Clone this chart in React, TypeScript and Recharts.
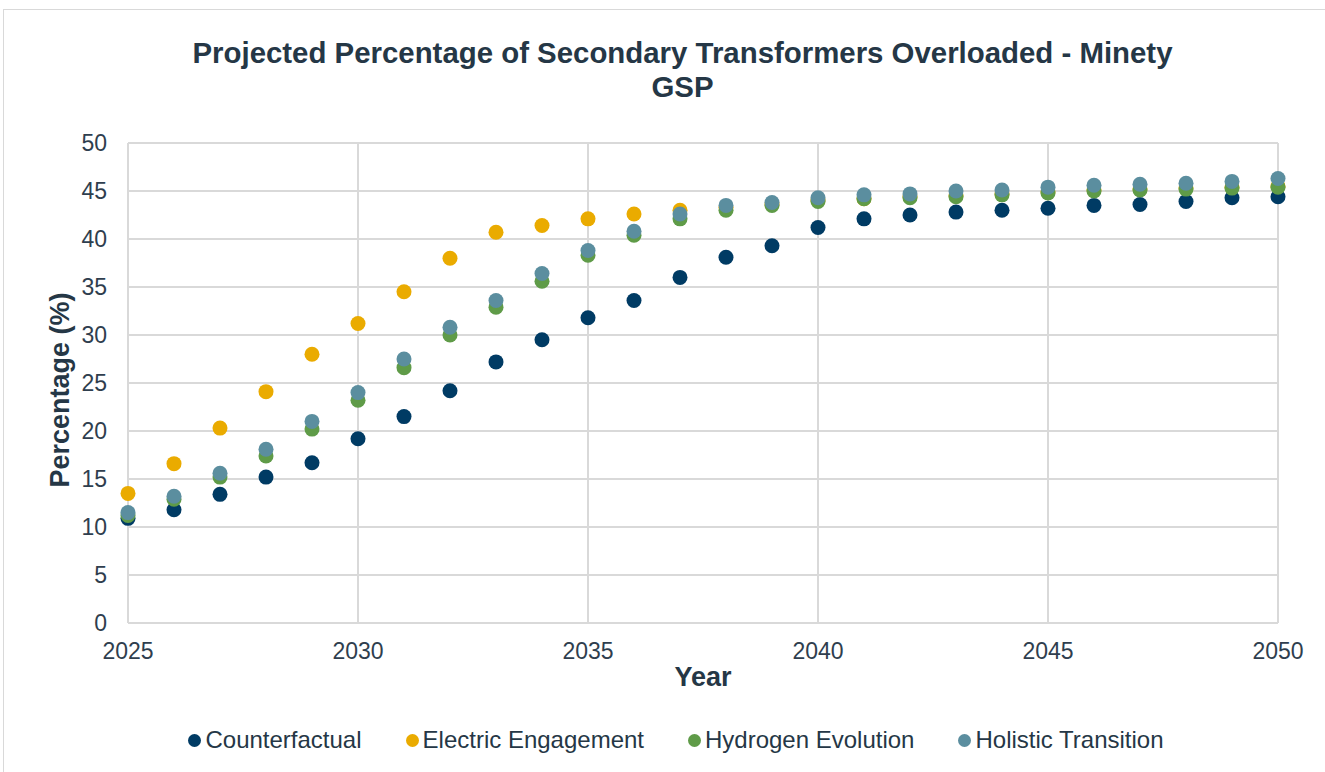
import React from 'react';
import { ScatterChart, Scatter, XAxis, YAxis, CartesianGrid, Label } from 'recharts';

const years = [2025, 2026, 2027, 2028, 2029, 2030, 2031, 2032, 2033, 2034, 2035, 2036, 2037, 2038, 2039, 2040, 2041, 2042, 2043, 2044, 2045, 2046, 2047, 2048, 2049, 2050];

const counterfactual = [10.9, 11.8, 13.4, 15.2, 16.7, 19.2, 21.5, 24.2, 27.2, 29.5, 31.8, 33.6, 36.0, 38.1, 39.3, 41.2, 42.1, 42.5, 42.8, 43.0, 43.2, 43.5, 43.6, 43.9, 44.3, 44.4];
const electricEngagement = [13.5, 16.6, 20.3, 24.1, 28.0, 31.2, 34.5, 38.0, 40.7, 41.4, 42.1, 42.6, 43.0, 43.3, 43.6, 44.0, 44.2, 44.4, 44.5, 44.7, 44.9, 45.1, 45.2, 45.3, 45.4, 45.5];
const hydrogenEvolution = [11.2, 12.9, 15.2, 17.4, 20.2, 23.2, 26.6, 30.0, 32.9, 35.6, 38.3, 40.4, 42.1, 43.0, 43.5, 43.9, 44.2, 44.3, 44.4, 44.6, 44.8, 45.0, 45.1, 45.2, 45.3, 45.4];
const holisticTransition = [11.5, 13.2, 15.6, 18.1, 21.0, 24.0, 27.5, 30.8, 33.6, 36.4, 38.8, 40.8, 42.6, 43.5, 43.8, 44.3, 44.6, 44.7, 45.0, 45.1, 45.4, 45.6, 45.7, 45.8, 46.0, 46.3];

const xTicks = [2025, 2030, 2035, 2040, 2045, 2050];
const yTicks = [0, 5, 10, 15, 20, 25, 30, 35, 40, 45, 50];

const series = [
  { name: 'Counterfactual', values: counterfactual, color: '#003b64' },
  { name: 'Electric Engagement', values: electricEngagement, color: '#eaab00' },
  { name: 'Hydrogen Evolution', values: hydrogenEvolution, color: '#5f9b48' },
  { name: 'Holistic Transition', values: holisticTransition, color: '#5b8e9f' },
];

const font = '"Liberation Sans", Arial, sans-serif';
const textColor = '#253746';
const tickColor = '#2f3e4e';

const Dot = (props: any) => {
  const { cx, cy, fill } = props;
  return <circle cx={cx} cy={cy} r={7.5} fill={fill} />;
};

export default function App() {
  return (
    <div style={{ position: 'absolute', left: 0, top: 0, width: 1325, height: 772, background: '#fff', fontFamily: font, overflow: 'hidden' }}>
      <div style={{ position: 'absolute', left: 3, top: 9, width: 1340, height: 780, border: '1px solid #d9d9d9', boxSizing: 'border-box' }} />
      <div style={{ position: 'absolute', left: 0, top: 36, width: 1365, textAlign: 'center', fontSize: 29.4, fontWeight: 'bold', color: textColor, lineHeight: '34px' }}>
        Projected Percentage of Secondary Transformers Overloaded - Minety
        <br />
        GSP
      </div>
      <div style={{ position: 'absolute', left: 0, top: 0 }}>
        <ScatterChart width={1325} height={772} margin={{ top: 143, right: 47, bottom: 89, left: 68 }}>
          <CartesianGrid stroke="#d9d9d9" strokeWidth={2} verticalValues={xTicks} horizontalValues={yTicks} />
          <XAxis
            type="number"
            dataKey="x"
            domain={[2025, 2050]}
            ticks={xTicks}
            height={60}
            tickSize={0}
            tickMargin={20}
            axisLine={{ stroke: '#d9d9d9', strokeWidth: 2 }}
            tick={{ fontSize: 23, fill: tickColor, fontFamily: font }}
          >
            <Label value="Year" position="insideBottom" offset={0} dy={3} style={{ fontSize: 27, fontWeight: 'bold', fill: textColor, fontFamily: font }} />
          </XAxis>
          <YAxis
            type="number"
            dataKey="y"
            domain={[0, 50]}
            ticks={yTicks}
            width={60}
            tickSize={0}
            tickMargin={21}
            axisLine={{ stroke: '#d9d9d9', strokeWidth: 2 }}
            tick={{ fontSize: 23, fill: tickColor, fontFamily: font }}
          >
            <Label value="Percentage (%)" angle={-90} position="insideLeft" offset={0} dx={-9} dy={7} style={{ textAnchor: 'middle', fontSize: 27, fontWeight: 'bold', fill: textColor, fontFamily: font }} />
          </YAxis>
          {series.map((s) => (
            <Scatter
              key={s.name}
              name={s.name}
              data={years.map((yr, i) => ({ x: yr, y: s.values[i] }))}
              fill={s.color}
              shape={<Dot />}
              isAnimationActive={false}
            />
          ))}
        </ScatterChart>
      </div>
      <div style={{ position: 'absolute', left: 0, top: 726, width: 1352, display: 'flex', justifyContent: 'center', gap: 44, fontSize: 24, color: textColor }}>
        {series.map((s) => (
          <div key={s.name} style={{ display: 'flex', alignItems: 'center', gap: 4 }}>
            <span style={{ display: 'inline-block', width: 13, height: 13, borderRadius: '50%', background: s.color }} />
            <span>{s.name}</span>
          </div>
        ))}
      </div>
    </div>
  );
}
